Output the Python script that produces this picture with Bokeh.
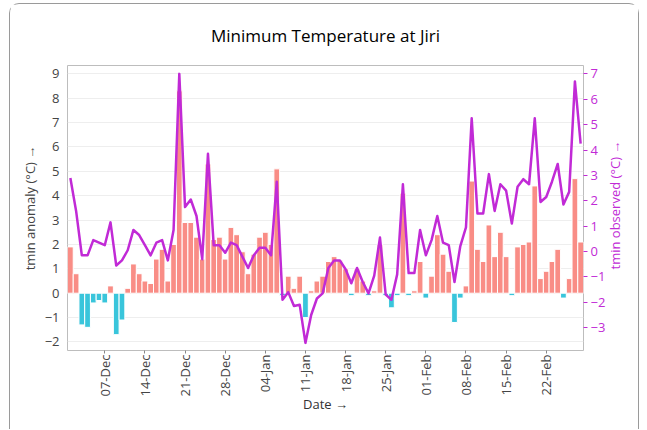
import math
import pandas as pd
from bokeh.plotting import figure
from bokeh.models import (Range1d, LinearAxis, FixedTicker, SingleIntervalTicker,
                          DatetimeTickFormatter, ColumnDataSource)
from bokeh.embed import file_html
from bokeh.resources import INLINE

# ---------------- data ----------------
start_date = "2022-12-01"
end_date = "2023-02-28"

anomaly = [
    1.9, 0.8, -1.3, -1.4, -0.4, -0.3, -0.4, 0.3, -1.7, -1.1,
    0.2, 1.2, 0.8, 0.5, 0.4, 1.4, 1.8, 0.5, 2.0, 8.3,
    2.9, 2.9, 2.3, 1.4, 5.3, 2.2, 2.3, 1.4, 2.7, 2.4,
    1.7, 0.8, 1.6, 2.3, 2.5, 2.0, 5.1, -0.1, 0.7, 0.2,
    0.7, -1.0, 0.1, 0.5, 0.7, 1.3, 1.5, 1.35, 1.0, -0.1,
    1.0, 0.5, -0.1, 0.1, 2.0, -0.1, -0.6, -0.1, 4.1, -0.1,
    0.1, 1.3, -0.2, 0.7, 2.4, 1.6, 0.9, -1.2, -0.2, 0.3,
    4.6, 1.8, 1.3, 2.8, 1.5, 2.5, 1.5, -0.1, 1.9, 2.0,
    2.1, 4.4, 0.6, 0.9, 1.3, 1.8, -0.2, 0.6, 4.7, 2.1,
]

observed = [
    2.9, 1.6, -0.15, -0.15, 0.45, 0.35, 0.25, 1.15, -0.55, -0.35,
    0.05, 0.85, 0.65, 0.25, -0.15, 0.35, 0.45, -0.35, 0.85, 7.0,
    1.75, 2.05, 1.4, -0.3, 3.85, 0.25, 0.25, -0.05, 0.35, 0.25,
    -0.2, -0.65, -0.15, 0.15, 0.15, -0.15, 2.75, -1.9, -1.6, -2.15,
    -2.1, -3.6, -2.5, -1.85, -1.65, -0.65, -0.35, -0.35, -0.7, -1.25,
    -0.65, -1.2, -1.65, -0.95, 0.55, -1.7, -1.9, -0.9, 2.65, -0.85,
    -0.85, 0.85, -0.15, 0.45, 1.4, 0.35, 0.25, -1.2, 0.2, 0.95,
    5.25, 1.5, 1.5, 3.05, 1.6, 2.65, 2.4, 1.1, 2.55, 2.85,
    2.65, 5.25, 1.95, 2.15, 2.75, 3.45, 1.85, 2.35, 6.7, 4.25,
]

tick_dates = ["2022-12-07", "2022-12-14", "2022-12-21", "2022-12-28",
              "2023-01-04", "2023-01-11", "2023-01-18", "2023-01-25",
              "2023-02-01", "2023-02-08", "2023-02-15", "2023-02-22"]

title_text = "Minimum Temperature at Jiri"
left_title = "tmin anomaly (°C) →"
right_title = "tmin observed (°C) →"
x_title = "Date →"

# ---------------- styles ----------------
FONT = "Open Sans"
POS = "#F98D86"
NEG = "#39C5DB"
LINE = "#C12AD6"
GRAY = "#444444"

dates = pd.date_range(start_date, end_date, freq="D")
colors = [POS if v >= 0 else NEG for v in anomaly]
src = ColumnDataSource(dict(date=dates, anomaly=anomaly, observed=observed, color=colors))

x_start = dates[0] - pd.Timedelta(hours=12)
x_end = dates[-1] + pd.Timedelta(hours=12)

W, H = 628, 425
MB_L, MB_R, MB_T, MB_B = 57, 57, 61, 80

p = figure(width=W, height=H, x_axis_type="datetime",
           x_range=Range1d(x_start, x_end), y_range=Range1d(-2.35, 9.34),
           output_backend="svg", toolbar_location=None,
           min_border_left=MB_L, min_border_right=MB_R,
           min_border_top=MB_T, min_border_bottom=MB_B,
           styles={"box-sizing": "content-box", "margin-left": "9px", "margin-top": "3px",
                   "border": "1px solid #9a9a9a", "border-bottom": "none",
                   "border-radius": "10px 10px 0 0"})
p.background_fill_color = "white"
p.border_fill_color = "white"
p.outline_line_color = "#BDBDBD"
p.outline_line_width = 1

p.extra_y_ranges = {"obs": Range1d(-3.9, 7.33)}

p.vbar(x="date", top="anomaly", bottom=0, width=86400000, fill_color="color",
       line_color="white", line_width=1, source=src)
p.line("date", "observed", source=src, y_range_name="obs", line_width=2.5,
       line_color=LINE, line_join="round")

# title
p.title.text = title_text
p.title.align = "center"
p.title.vertical_align = "middle"
p.title.standoff = 36
p.title.text_font = FONT
p.title.text_font_size = "17px"
p.title.text_font_style = "normal"
p.title.text_color = "black"

# grids
p.xgrid.visible = False
p.ygrid.grid_line_color = "#EEEEEE"
p.ygrid.grid_line_width = 1

# left axis
ly = p.yaxis[0]
ly.ticker = SingleIntervalTicker(interval=1)
ly.axis_label = left_title
ly.axis_label_text_font = FONT
ly.axis_label_text_font_size = "13px"
ly.axis_label_text_font_style = "normal"
ly.axis_label_text_color = GRAY
ly.axis_label_standoff = 3
ly.major_label_text_font = FONT
ly.major_label_text_font_size = "13px"
ly.major_label_text_color = GRAY
ly.major_label_standoff = 4
ly.axis_line_color = None
ly.major_tick_out = 0
ly.major_tick_in = 0
ly.minor_tick_line_color = None

# right axis: title reads bottom-to-top like the reference; it is anchored at the
# bottom of the axis, so non-breaking spaces lift it to the middle of the axis
ry = LinearAxis(y_range_name="obs", ticker=SingleIntervalTicker(interval=1))
ry.axis_label = "\u00a0" * 24 + right_title
ry.axis_label_text_font = FONT
ry.axis_label_text_font_size = "13px"
ry.axis_label_text_font_style = "normal"
ry.axis_label_text_color = LINE
ry.axis_label_standoff = 7
try:
    ry.axis_label_orientation = math.pi / 2
    ry.axis_label_align = "start"
except Exception:
    pass
ry.major_label_text_font = FONT
ry.major_label_text_font_size = "13px"
ry.major_label_text_color = LINE
ry.major_label_standoff = 3
ry.axis_line_color = None
ry.major_tick_out = 4
ry.major_tick_in = 0
ry.major_tick_line_color = LINE
ry.minor_tick_line_color = None
p.add_layout(ry, "right")

# x axis
xa = p.xaxis[0]
xa.ticker = FixedTicker(ticks=[pd.Timestamp(d).value // 10**6 for d in tick_dates])
fmt = "%d-%b"
xa.formatter = DatetimeTickFormatter(days=fmt, months=fmt, years=fmt, hours=fmt,
                                     hourmin=fmt, minutes=fmt, minsec=fmt,
                                     seconds=fmt, milliseconds=fmt, microseconds=fmt)
xa.major_label_orientation = math.pi / 2
xa.axis_label = x_title
xa.axis_label_text_font = FONT
xa.axis_label_text_font_size = "13px"
xa.axis_label_text_font_style = "normal"
xa.axis_label_text_color = "#333333"
xa.axis_label_standoff = -5
xa.major_label_text_font = FONT
xa.major_label_text_font_size = "13px"
xa.major_label_text_color = GRAY
xa.major_label_standoff = 1
xa.axis_line_color = None
xa.major_tick_out = 3
xa.major_tick_in = 0
xa.major_tick_line_color = "#888888"
xa.minor_tick_line_color = None

open("out.html", "w").write(file_html(p, INLINE))
